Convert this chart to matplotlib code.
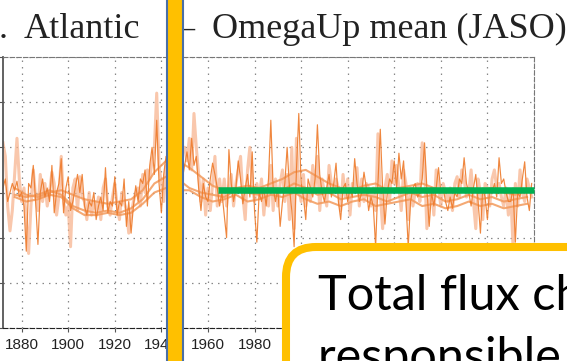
import numpy as np
import matplotlib.pyplot as plt
from matplotlib.patches import Rectangle, FancyBboxPatch

# annual JASO OmegaUp anomalies, two members
years = np.arange(1872, 2100)
omega_a = [0.1, 0.3, -0.2, 0.0, 0.2, 0.05, 0.25, -0.1,
           0.0, -0.3, -1.3, 0.2, 0.1, 0.6, -0.2, -1.15, 0.0, 0.3,
           -0.1, 0.1, -0.2, 0.6, -0.45, 0.0, 0.2, 0.75, -0.45, 0.1,
           0.35, -0.4, -0.2, 0.1, 0.4, 0.0, 0.4, -0.3, -0.5, -0.2,
           -0.3, 0.0, -0.6, -0.3, -0.1, -0.4, 0.55, -0.45, -0.2, -0.3,
           0.35, -0.5, -0.2, -0.3, 0.3, -0.75, -0.2, -0.9, -0.3, 0.15,
           -0.2, 0.3, 0.2, 0.5, -0.3, 0.6, 1.0, 0.4, 1.6, 0.2,
           -0.45, 0.4, 0.8, 0.5, 0.3, 0.6, 0.2, 0.5, 0.3, 0.3,
           0.6, 0.9, 0.5, 1.2, 0.6, 0.8, 0.1, -0.4, 0.2, -0.1,
           -0.2, 0.3, 0.65, 0.4, 0.1, -0.3, 0.0, -0.5, -1.0, 0.95,
           0.2, -0.2, 0.1, 0.7, 0.3, -0.25, 0.1, 0.4, -0.1, 0.9,
           -0.4, -1.1, 0.0, -0.2, 0.1, -0.3, 0.3, 1.6, 0.1, -0.2,
           0.1, -0.75, -0.2, 0.2, 1.0, 0.1, -0.4, -1.2, 0.5, 1.75,
           0.2, -0.1, -0.6, 0.3, 0.1, -0.1, 0.3, 1.5, 0.4, 0.0,
           -0.2, 0.1, 0.4, -0.1, 0.2, 0.65, -0.2, -0.6, 0.1, 0.2,
           -0.2, 0.1, -0.1, 0.75, 0.2, -0.2, 0.0, 0.45, 0.1, -0.4,
           -0.1, -0.3, -1.2, 0.2, 1.4, 0.1, -0.7, 0.0, 0.3, 0.2,
           0.7, 0.1, 0.87, 0.3, 0.7, -0.2, -1.2, -0.2, 0.1, 0.2,
           -0.1, 0.0, 0.3, 1.1, 0.1, -0.75, 0.0, -0.3, 0.1, 0.55,
           0.0, 0.1, -0.2, -0.4, -0.1, -0.35, 0.0, -0.1, 0.3, 0.2,
           0.77, 0.2, 0.0, -0.3, 0.1, 0.4, -0.2, -0.9, 0.1, -0.1,
           -0.6, 0.1, 0.0, 0.2, -0.1, 0.77, 0.2, 0.3, 0.0, -0.2,
           -0.2, 0.1, -1.1, 0.0, -0.1, 0.3, 0.68, -0.1, -0.4, 0.2]
omega_b = [1.1, 0.8, -0.3, -0.85, -0.4, 0.4, 1.2, 0.3,
           -0.2, 0.1, -0.6, -1.35, -0.3, 0.5, -0.1, -0.4, 0.4, -0.2,
           0.2, -0.3, 0.0, 0.45, 0.2, -0.5, -0.1, 0.8, -0.2, -0.5,
           -0.3, -1.2, 0.1, 0.3, -0.4, 0.35, -0.1, -0.2, -0.6, 0.0,
           -0.5, -0.2, -0.4, -0.1, -0.6, 0.1, 0.3, -0.3, -0.5, -0.1,
           0.2, -0.3, -0.6, 0.0, -0.2, -0.4, -0.9, -0.5, -0.2, 0.0,
           0.1, -0.3, 0.4, 0.0, 0.5, 0.3, 0.7, 1.0, 2.2, 0.6,
           0.2, -0.2, 0.6, 0.4, 0.8, 0.5, 0.7, 0.4, 0.9, 1.0,
           1.0, 0.7, 1.2, 0.5, 1.75, 1.0, 0.4, -0.2, 0.3, -0.5,
           0.1, -0.4, 0.2, 0.8, -0.3, 0.3, -0.2, 0.3, -0.3, 0.1,
           0.4, -0.3, 0.2, 0.5, 0.8, -0.1, -0.6, 0.5, 1.0, 0.2,
           -0.2, 0.2, -0.1, 0.3, -0.5, 0.1, -0.3, 0.6, -0.4, 0.3,
           -0.3, 0.2, 0.5, -0.2, 0.4, -0.6, 1.0, -0.8, 1.2, 0.1,
           -0.2, 0.4, -0.3, 0.1, -0.2, 0.6, 0.1, 0.8, -0.4, 0.3,
           0.0, -0.3, 0.6, 0.2, 0.0, 0.3, 0.1, -0.4, 0.4, -0.1,
           0.3, -0.5, 0.2, 0.1, 0.55, -0.3, 0.3, -0.2, 0.2, 0.1,
           -0.3, 0.1, -0.4, 1.3, 0.0, -0.8, 0.1, 0.4, -0.2, 0.7,
           0.2, 0.6, 0.1, -0.4, 0.5, 0.2, -0.6, 0.1, -0.3, 0.0,
           0.2, -0.2, 1.1, 0.6, -0.8, -0.2, 0.1, -0.5, 0.5, 0.1,
           -0.3, 0.2, 0.0, -0.2, 0.1, -0.4, 0.2, 0.35, -0.1, 0.5,
           0.3, -0.1, 0.0, 0.5, -0.2, -0.8, 0.3, 0.0, -0.6, 0.2,
           0.1, -0.3, 0.3, 0.5, 0.1, 0.2, -0.1, -0.3, 0.1, -0.5,
           0.0, -1.2, 0.2, -0.3, 0.5, 0.0, -0.2, 0.3, 0.1, -0.1]

# running means
smooth_years = np.arange(1877, 2098, 5)
smooth_hi = [0.1, -0.05, -0.1, 0.0, 0.05, -0.05, -0.15, -0.2, -0.25, -0.2,
             -0.15, 0.05, 0.45, 0.7, 0.7, 0.55, 0.35, 0.15, 0.05, 0.1,
             0.15, 0.1, 0.2, 0.3, 0.45, 0.5, 0.35, 0.2, 0.1, 0.05,
             0.15, 0.2, 0.05, 0.1, 0.15, 0.2, 0.1, 0.0, 0.05, 0.1,
             0.05, 0.1, 0.0, -0.05, 0.05]
smooth_mid = [-0.05, -0.1, -0.05, 0.05, -0.05, -0.3, -0.4, -0.45, -0.4, -0.45,
              -0.35, -0.15, 0.2, 0.35, 0.3, 0.1, 0.0, -0.05, -0.1, 0.05,
              0.0, -0.05, 0.1, 0.05, 0.2, 0.1, -0.05, 0.0, -0.15, -0.1,
              -0.05, -0.1, -0.2, -0.1, 0.0, -0.1, -0.05, -0.2, -0.15, -0.05,
              -0.15, -0.1, -0.2, -0.15, -0.1]
smooth_lo = [-0.1, -0.2, -0.15, -0.05, -0.1, -0.35, -0.5, -0.5, -0.45, -0.5,
             -0.45, -0.25, 0.0, 0.1, 0.05, 0.05, -0.1, -0.2, -0.15, -0.05,
             -0.2, -0.15, -0.05, -0.1, 0.0, -0.15, -0.25, -0.2, -0.3, -0.2,
             -0.15, -0.3, -0.25, -0.2, -0.15, -0.3, -0.25, -0.35, -0.3, -0.2,
             -0.3, -0.25, -0.35, -0.3, -0.25]

# reference level after 1964
ref_level = 0.055
ref_start = 1964.5

tick_years = [1880, 1900, 1920, 1940, 1960, 1980, 2000, 2020, 2040, 2060, 2080, 2100]
# labels under the callout box are left blank
tick_labels = ['1880', '1900', '1920', '1940', '1960', '1980', '', '', '', '', '', '']

fig = plt.figure(figsize=(5.67, 3.61), dpi=100)
ax = fig.add_axes([3/567, 33/361, 531/567, 271/361])

ax.plot(years, omega_b, color='#F7B089', lw=2.2, alpha=0.7)
for s in [smooth_hi, smooth_mid, smooth_lo]:
    ax.plot(smooth_years, s, color='#F39A5C', lw=1.5, alpha=0.85)
ax.plot(years, omega_a, color='#EE7A2A', lw=0.85, alpha=0.9)
ax.hlines(ref_level, ref_start, 2100, color='#00B050', lw=4.7, zorder=5, clip_on=False)

ax.set_xlim(1872, 2100)
ax.set_ylim(-3, 3)
ax.set_xticks(tick_years)
ax.set_xticklabels(tick_labels)
ax.set_yticks(range(-3, 4))
ax.grid(True, color='#888888', linestyle=(0, (1.2, 4)), lw=0.9)

ax.spines['left'].set_color('#555555')
ax.spines['left'].set_linewidth(1.3)
for side in ['top', 'right']:
    ax.spines[side].set_linestyle((0, (4, 2)))
    ax.spines[side].set_color('#777777')
ax.spines['bottom'].set_linestyle((0, (4, 2)))
ax.spines['bottom'].set_color('#222222')

ax.tick_params(axis='y', direction='out', length=3, color='#555555', labelleft=False)
ax.tick_params(axis='x', direction='out', length=3, color='#555555', pad=4)
for lab in ax.get_xticklabels():
    lab.set_fontfamily('Liberation Sans')
    lab.set_fontsize(11)
    lab.set_color('#222222')

# slide overlay in pixel coordinates
ov = fig.add_axes([0, 0, 1, 1])
ov.set_xlim(0, 567)
ov.set_ylim(361, 0)
ov.axis('off')
ov.patch.set_alpha(0)

tfont = dict(family='Liberation Serif', size=26, color='#222222', va='baseline')
ov.text(-1, 38, '.', **tfont)
ov.text(24, 38, 'Atlantic', **tfont)
ov.text(176, 38, '–', **tfont)
ov.text(212, 38, 'OmegaUp mean (JASO)', **tfont)

ov.add_patch(Rectangle((166.5, -5), 16, 371, fc='#FFC000', ec='#4A6FA6', lw=1.5, zorder=10))

ov.add_patch(FancyBboxPatch((286, 247), 400, 300, boxstyle='round,pad=0,rounding_size=30',
                            fc='white', ec='#FFC000', lw=5.8, zorder=10))
ov.text(318, 310, 'Total flux change', family='Lato', size=35, color='black',
        va='baseline', zorder=11)
ov.text(318, 372, 'responsible for', family='Lato', size=35, color='black',
        va='baseline', zorder=11)

fig.savefig('out.png', dpi=100)
